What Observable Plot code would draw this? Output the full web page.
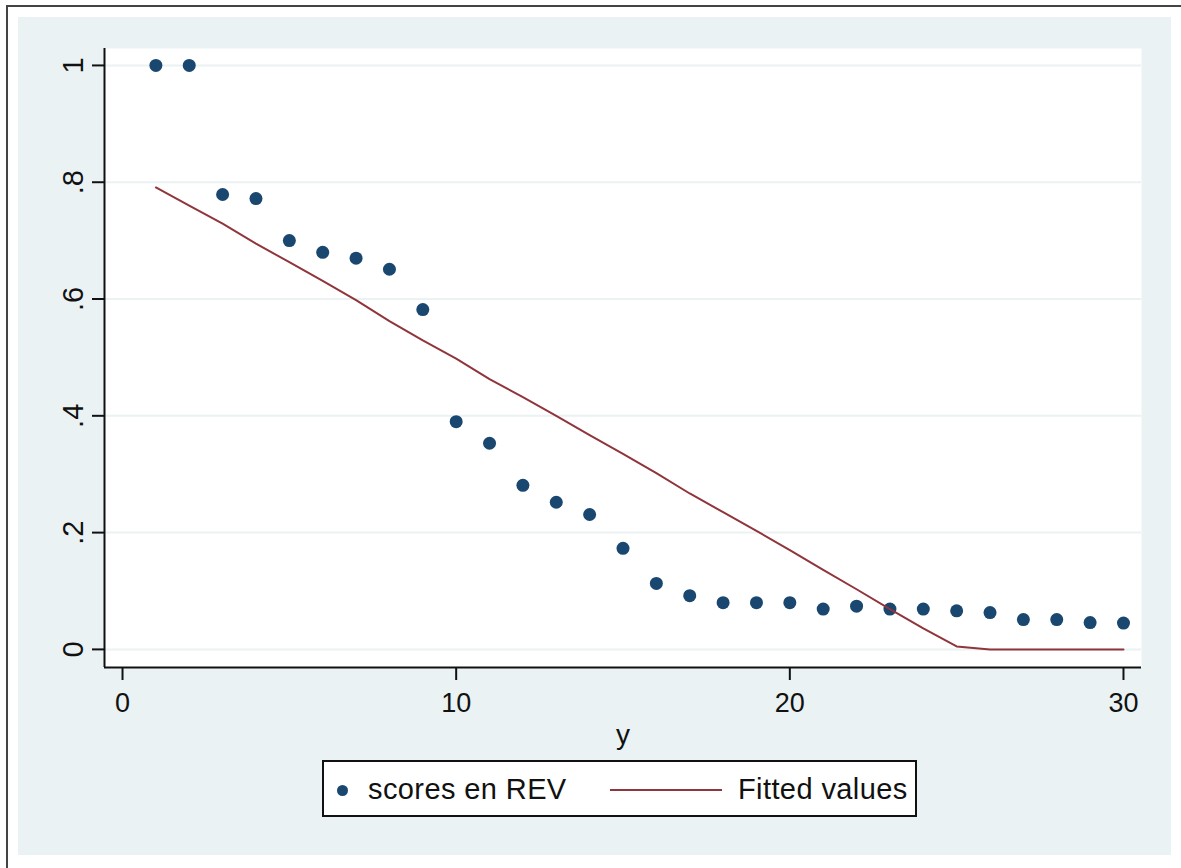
<!DOCTYPE html>
<html>
<head>
<meta charset="utf-8">
<script src="https://cdn.jsdelivr.net/npm/d3@7"></script>
<script src="https://cdn.jsdelivr.net/npm/@observablehq/plot@0.6"></script>
<style>
  html, body { margin: 0; padding: 0; background: #ffffff; }
  body { font-family: "Liberation Sans", Arial, sans-serif; }
  #page { position: relative; width: 1181px; height: 868px; overflow: hidden; background: #fff; }
  #border { position: absolute; left: 6px; top: 5px; width: 1300px; height: 1000px;
            border-top: 2px solid #444; border-left: 2px solid #444; }
  #bg { position: absolute; left: 18px; top: 17px; width: 1153px; height: 838px; background: #eaf2f3; }
  #chart { position: absolute; left: 18px; top: 17px; }
  #legend { position: absolute; left: 322px; top: 760px; width: 591px; height: 53px;
            border: 2px solid #111; background: #fff; }
  #legend .dot { position: absolute; left: 13px; top: 23px; width: 11px; height: 11px;
                 border-radius: 50%; background: #1a476f; }
  #legend .txt { position: absolute; top: 0; height: 53px; line-height: 55px;
                 font-size: 29px; letter-spacing: 0.4px; color: #111; white-space: nowrap; }
  #legend .ln { position: absolute; left: 286px; top: 27px; width: 112px; height: 2px; background: #90353b; }
</style>
</head>
<body>
<div id="page">
  <div id="border"></div>
  <div id="bg"></div>
  <div id="chart"></div>
  <div id="legend">
    <div class="dot"></div>
    <div class="txt" style="left:44px">scores en REV</div>
    <div class="ln"></div>
    <div class="txt" style="left:414px">Fitted values</div>
  </div>
</div>
<script>
// ---- data ----
const xValues = [1,2,3,4,5,6,7,8,9,10,11,12,13,14,15,16,17,18,19,20,21,22,23,24,25,26,27,28,29,30];
const scores = [1.000,1.000,0.779,0.772,0.700,0.680,0.670,0.651,0.582,0.390,
                0.353,0.281,0.252,0.231,0.173,0.113,0.092,0.080,0.080,0.080,
                0.069,0.074,0.069,0.069,0.066,0.063,0.051,0.051,0.046,0.045];
const fitted = [0.791,0.760,0.729,0.695,0.663,0.631,0.598,0.562,0.529,0.498,
                0.463,0.432,0.400,0.367,0.335,0.302,0.267,0.235,0.203,0.170,
                0.136,0.103,0.069,0.036,0.005,0.000,0.000,0.000,0.000,0.000];
const xTicks = [0, 10, 20, 30];
const yTicks = [0, 0.2, 0.4, 0.6, 0.8, 1];
const yTickLabels = ["0", ".2", ".4", ".6", ".8", "1"];
const xDomain = [-0.54, 30.54];
const yDomain = [-0.031, 1.029];

const rows = xValues.map((x, i) => ({x, score: scores[i], fit: fitted[i]}));

const chart = Plot.plot({
  width: 1153,
  height: 728,
  marginLeft: 86,
  marginRight: 30,
  marginTop: 31,
  marginBottom: 78,
  style: {background: "#eaf2f3", fontFamily: "'Liberation Sans', Arial, sans-serif", color: "#111", overflow: "visible"},
  x: {domain: xDomain, axis: null},
  y: {domain: yDomain, axis: null},
  marks: [
    Plot.frame({fill: "white", stroke: null}),
    Plot.ruleY(yTicks, {stroke: "#eaf2f3", strokeWidth: 2}),
    Plot.dot(rows, {x: "x", y: "score", r: 6.5, fill: "#1a476f", stroke: null}),
    Plot.line(rows, {x: "x", y: "fit", stroke: "#90353b", strokeWidth: 2}),
    Plot.ruleX([xDomain[0]], {stroke: "#111", strokeWidth: 2}),
    Plot.ruleY([yDomain[0]], {stroke: "#111", strokeWidth: 2}),
    Plot.axisX({ticks: xTicks, tickSize: 13, tickPadding: 12, strokeWidth: 2, fontSize: 27,
                label: null, tickFormat: d => String(d), stroke: "#111", fill: "#111"}),
    Plot.axisY({ticks: yTicks, tickSize: 12, strokeWidth: 2, label: null,
                tickFormat: () => "", stroke: "#111"}),
    Plot.text(yTicks, {y: d => d, text: (d, i) => yTickLabels[i], frameAnchor: "left",
                       rotate: -90, textAnchor: "middle", lineAnchor: "bottom",
                       dx: -22, fontSize: 29, fill: "#111"}),
    Plot.text(["y"], {text: d => d, frameAnchor: "bottom", dy: 68, fontSize: 28,
                      fill: "#111", lineAnchor: "middle"})
  ]
});
document.getElementById("chart").appendChild(chart);
</script>
</body>
</html>
